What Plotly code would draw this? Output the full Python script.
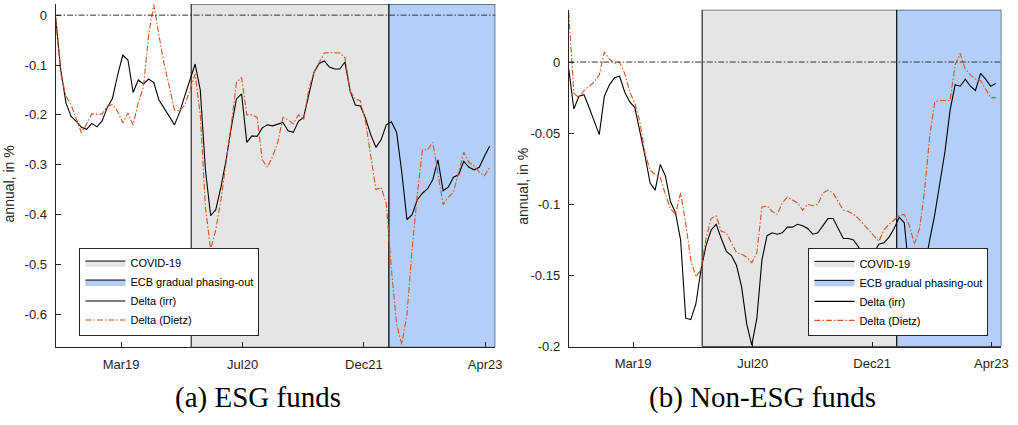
import pandas as pd
import plotly.graph_objects as go

# ---------------- data ----------------
dates = pd.date_range("2018-06-27", periods=85, freq="21D")

esg_irr = [-0.005, -0.110, -0.176, -0.203, -0.213, -0.225, -0.229, -0.217, -0.224, -0.212,
           -0.185, -0.167, -0.120, -0.080, -0.090, -0.155, -0.130, -0.138, -0.128, -0.135,
           -0.170, -0.188, -0.203, -0.220, -0.195, -0.162, -0.130, -0.098, -0.150, -0.310,
           -0.402, -0.390, -0.345, -0.290, -0.225, -0.168, -0.158, -0.255, -0.242, -0.243,
           -0.226, -0.220, -0.222, -0.219, -0.215, -0.232, -0.235, -0.213, -0.205, -0.160,
           -0.115, -0.097, -0.092, -0.104, -0.108, -0.108, -0.094, -0.152, -0.180, -0.182,
           -0.207, -0.240, -0.265, -0.250, -0.220, -0.214, -0.235, -0.315, -0.410, -0.400,
           -0.370, -0.357, -0.348, -0.330, -0.290, -0.352, -0.345, -0.325, -0.320, -0.293,
           -0.305, -0.310, -0.305, -0.283, -0.263]

esg_dietz = [-0.003, -0.118, -0.162, -0.180, -0.208, -0.236, -0.218, -0.198, -0.199, -0.198,
             -0.183, -0.179, -0.193, -0.216, -0.196, -0.220, -0.175, -0.144, -0.040, 0.021,
             -0.040, -0.098, -0.143, -0.190, -0.192, -0.180, -0.150, -0.118, -0.200, -0.385,
             -0.470, -0.430, -0.370, -0.300, -0.220, -0.135, -0.125, -0.200, -0.200, -0.205,
             -0.290, -0.305, -0.283, -0.255, -0.205, -0.210, -0.218, -0.200, -0.210, -0.148,
             -0.115, -0.095, -0.076, -0.075, -0.076, -0.076, -0.085, -0.152, -0.168, -0.172,
             -0.215, -0.285, -0.350, -0.345, -0.378, -0.510, -0.620, -0.660, -0.600, -0.470,
             -0.360, -0.270, -0.270, -0.255, -0.320, -0.380, -0.365, -0.355, -0.315, -0.275,
             -0.295, -0.302, -0.315, -0.322, -0.305]

non_irr = [-0.005, -0.033, -0.024, -0.023, -0.032, -0.041, -0.051, -0.024, -0.016, -0.011,
           -0.010, -0.021, -0.028, -0.032, -0.048, -0.066, -0.085, -0.090, -0.072, -0.080,
           -0.098, -0.106, -0.125, -0.180, -0.181, -0.170, -0.146, -0.129, -0.118, -0.114,
           -0.124, -0.133, -0.136, -0.143, -0.158, -0.184, -0.199, -0.180, -0.139, -0.122,
           -0.120, -0.121, -0.120, -0.116, -0.116, -0.114, -0.115, -0.117, -0.121, -0.120,
           -0.115, -0.110, -0.110, -0.117, -0.124, -0.124, -0.125, -0.130, -0.136, -0.134,
           -0.134, -0.128, -0.127, -0.123, -0.117, -0.109, -0.113, -0.150, -0.190, -0.170,
           -0.145, -0.125, -0.107, -0.085, -0.063, -0.034, -0.016, -0.017, -0.012, -0.017,
           -0.020, -0.008, -0.012, -0.017, -0.015]

non_dietz = [0.035, -0.022, -0.025, -0.020, -0.017, -0.014, -0.009, 0.007, 0.002, -0.001,
             0.000, -0.008, -0.021, -0.029, -0.042, -0.064, -0.076, -0.079, -0.081, -0.093,
             -0.103, -0.107, -0.092, -0.113, -0.139, -0.151, -0.146, -0.124, -0.110, -0.108,
             -0.119, -0.120, -0.127, -0.134, -0.135, -0.137, -0.141, -0.134, -0.102, -0.101,
             -0.105, -0.107, -0.099, -0.095, -0.097, -0.099, -0.104, -0.100, -0.101, -0.100,
             -0.092, -0.090, -0.092, -0.098, -0.104, -0.105, -0.107, -0.110, -0.114, -0.118,
             -0.122, -0.126, -0.118, -0.114, -0.111, -0.108, -0.107, -0.115, -0.128, -0.117,
             -0.090, -0.052, -0.028, -0.027, -0.027, -0.027, -0.002, 0.006, -0.005, -0.009,
             -0.012, -0.013, -0.019, -0.025, -0.025]

covid_period = ["2019-12-30", "2022-03-13"]
ecb_period = ["2022-03-13", "2023-05-19"]
x_range = ["2018-06-27", "2023-05-19"]
tick_dates = ["2019-03-20", "2020-07-26", "2021-12-01", "2023-04-08"]
tick_labels = ["Mar19", "Jul20", "Dec21", "Apr23"]

esg_yticks = [0, -0.1, -0.2, -0.3, -0.4, -0.5, -0.6]
esg_ytext = ["0", "-0.1", "-0.2", "-0.3", "-0.4", "-0.5", "-0.6"]
non_yticks = [0, -0.05, -0.1, -0.15, -0.2]
non_ytext = ["0", "-0.05", "-0.1", "-0.15", "-0.2"]
esg_yrange = [-0.666, 0.0225]
non_yrange = [-0.2, 0.0367]

y_title = "annual, in %"
captions = ["(a) ESG funds", "(b) Non-ESG funds"]

# ---------------- styling ----------------
W, H = 1018, 425
GRAY = "#e5e5e5"
BLUE = "#b3cff9"
ORANGE = "#d95319"
AX = "#262626"
DASHDOT = "6px,2px,1.5px,2px"
FONT = "Liberation Sans"

fig = go.Figure()


def add_panel(fig, xa, ya, legend, irr, dietz, yrange):
    ymin, ymax = yrange
    for name, period, color in [("COVID-19", covid_period, GRAY),
                                ("ECB gradual phasing-out", ecb_period, BLUE)]:
        s, e = period
        fig.add_trace(go.Scatter(
            x=[s, s, e, e, s], y=[ymin, ymax, ymax, ymin, ymin],
            mode="lines", fill="toself", fillcolor=color,
            line=dict(color="black", width=1), name=name,
            xaxis=xa, yaxis=ya, legend=legend, hoverinfo="skip"))
    fig.add_trace(go.Scatter(
        x=dates, y=irr, mode="lines", name="Delta (irr)",
        line=dict(color="black", width=1.1),
        xaxis=xa, yaxis=ya, legend=legend))
    fig.add_trace(go.Scatter(
        x=dates, y=dietz, mode="lines", name="Delta (Dietz)",
        line=dict(color=ORANGE, width=1.1, dash=DASHDOT),
        xaxis=xa, yaxis=ya, legend=legend))


add_panel(fig, "x", "y", "legend", esg_irr, esg_dietz, esg_yrange)
add_panel(fig, "x2", "y2", "legend2", non_irr, non_dietz, non_yrange)

for xr, yr in [("x", "y"), ("x2", "y2")]:
    fig.add_shape(type="line", xref=f"{xr} domain", yref=yr, x0=0, x1=1, y0=0, y1=0,
                  line=dict(color="#333333", width=1, dash=DASHDOT), layer="above")

common_x = dict(type="date", range=x_range, tickvals=tick_dates, ticktext=tick_labels,
                showline=True, linecolor=AX, linewidth=1, ticks="inside", ticklen=5,
                tickcolor=AX, tickfont=dict(family=FONT, size=13, color=AX),
                showgrid=False, zeroline=False, ticklabelstandoff=5)
common_y = dict(showline=True, linecolor=AX, linewidth=1, ticks="inside", ticklen=5,
                tickcolor=AX, tickfont=dict(family=FONT, size=13, color=AX),
                showgrid=False, zeroline=False, ticklabelstandoff=5)

legend_style = dict(bgcolor="white", bordercolor=AX, borderwidth=1,
                    font=dict(family=FONT, size=11, color="black"),
                    xanchor="left", yanchor="bottom", tracegroupgap=0,
                    itemwidth=40)

fig.update_layout(
    width=W, height=H, margin=dict(l=0, r=0, t=0, b=0),
    paper_bgcolor="white", plot_bgcolor="white",
    hovermode=False,
    xaxis=dict(domain=[56 / W, 498.7 / W], anchor="y", **common_x),
    yaxis=dict(domain=[1 - 354 / H, 1 - 4 / H], anchor="x", range=esg_yrange,
               tickvals=esg_yticks, ticktext=esg_ytext, **common_y),
    xaxis2=dict(domain=[572.7 / W, 1008.3 / W], anchor="y2", **common_x),
    yaxis2=dict(domain=[1 - 353.3 / H, 1 - 10 / H], anchor="x2", range=non_yrange,
                tickvals=non_yticks, ticktext=non_ytext, **common_y),
    legend=dict(x=80 / W, y=1 - 342 / H, **legend_style),
    legend2=dict(x=814 / W, y=1 - 342.3 / H, **legend_style),
)

# y-axis titles
for px_x, px_y in [(10, 187), (527, 190)]:
    fig.add_annotation(text=y_title, x=px_x / W, y=1 - px_y / H, xref="paper", yref="paper",
                       showarrow=False, textangle=-90, xanchor="center", yanchor="middle",
                       font=dict(family=FONT, size=14, color=AX))

for text, cx in zip(captions, [260, 768]):
    fig.add_annotation(text=text, x=cx / W, y=1 - 405 / H, xref="paper", yref="paper",
                       showarrow=False, xanchor="center", yanchor="middle",
                       font=dict(family="Liberation Serif", size=29, color="black"))

fig.write_html("out.html", config={"displayModeBar": False},
               post_script="document.body.style.margin='0';")
